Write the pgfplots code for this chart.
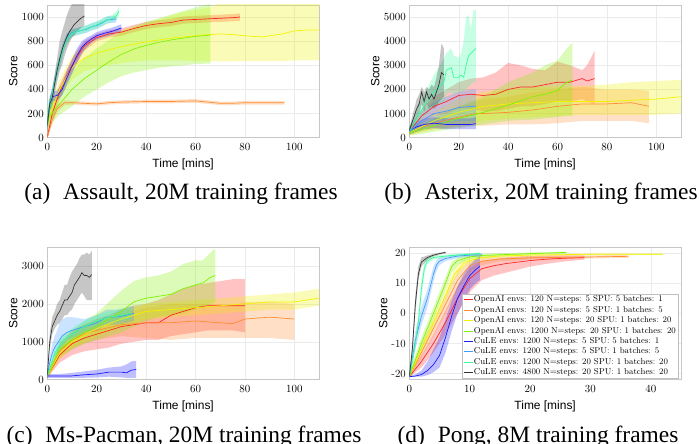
\documentclass[border=0pt]{standalone}
\usepackage{fontspec}
\usepackage{pgfplots}
\usepackage{pgfplotstable}
\pgfplotsset{compat=1.18}
\usepgfplotslibrary{fillbetween}
\newfontfamily\capfont{Liberation Serif}
\newfontfamily\labfont{Liberation Sans}
\definecolor{cR}{rgb}{1,0.15,0.15}
\definecolor{cO}{rgb}{1,0.55,0.2}
\definecolor{cY}{rgb}{0.95,0.95,0}
\definecolor{cG}{rgb}{0.5,0.95,0}
\definecolor{cB}{rgb}{0.1,0.1,1}
\definecolor{cL}{rgb}{0.25,0.6,1}
\definecolor{cS}{rgb}{0.2,1,0.6}
\definecolor{cK}{rgb}{0.2,0.2,0.2}

% ---------- (a) Assault ----------
\pgfplotstableread{
x y lo hi
0 0 0 60
2 200 140 260
5 380 320 440
8 520 470 570
10 600 550 650
13 700 650 750
15 760 720 800
20 830 800 860
25 860 830 890
30 875 845 905
35 905 875 935
40 930 900 960
45 945 915 975
50 955 925 985
55 975 945 1005
60 980 950 1010
65 985 955 1015
70 990 960 1020
75 995 965 1025
78 1000 970 1030
}\tAa
\pgfplotstableread{
x y lo hi
0 0 0 40
2 150 110 190
4 240 210 270
7 290 270 310
10 290 275 305
15 285 270 300
20 280 265 295
25 290 275 305
30 295 280 310
40 300 285 315
50 300 285 315
60 305 290 320
65 295 280 310
70 285 270 300
75 285 270 300
80 290 275 305
90 290 275 305
96 290 275 305
}\tAb
\pgfplotstableread{
x y lo hi
0 100 40 160
2 250 180 320
5 400 320 480
10 580 480 680
15 660 550 770
20 700 580 820
25 730 600 860
30 755 620 890
35 775 630 920
40 795 640 950
45 810 640 980
50 825 640 1010
55 835 640 1040
60 845 635 1060
66 855 633 1080
70 860 633 1130
75 855 633 1130
80 845 635 1130
87 835 635 1130
95 860 635 1130
100 885 640 1130
105 892 640 1130
110 892 640 1130
}\tAc
\pgfplotstableread{
x y lo hi
0 150 80 250
3 230 150 330
5 280 190 380
10 400 260 550
15 490 340 660
20 560 400 740
25 630 460 810
30 690 510 880
35 735 540 920
40 765 560 960
45 790 580 990
50 810 590 1020
55 825 600 1050
60 840 610 1080
66 850 615 1110
}\tAd
\pgfplotstableread{
x y lo hi
0 100 60 150
1 280 240 320
2 340 300 380
4 350 310 390
6 400 350 450
8 500 440 560
10 590 530 650
12 680 620 740
14 750 700 800
16 790 750 830
18 820 790 850
20 845 815 875
23 865 835 895
26 880 850 910
28 895 865 925
30 910 880 940
}\tAe
\pgfplotstableread{
x y lo hi
0 100 60 150
1 280 230 330
2 370 320 420
3 470 420 520
4 560 510 610
5 640 590 690
6 720 670 770
7 780 740 820
8 830 790 870
10 870 840 900
12 880 850 910
14 890 860 920
16 900 870 930
18 920 890 950
20 930 900 960
22 950 920 980
24 975 945 1005
26 980 950 1010
28 985 955 1015
}\tAf
\pgfplotstableread{
x y lo hi
0 100 50 300
1 260 200 330
2 360 310 410
3 460 410 510
4 550 500 600
5 630 580 680
6 710 660 760
7 770 730 810
8 820 780 860
10 865 835 895
12 880 850 910
14 890 860 920
16 905 875 935
18 920 890 950
20 935 905 965
22 955 925 985
24 975 945 1005
26 985 955 1015
28 1010 975 1045
29 1050 1010 1090
}\tAg
\pgfplotstableread{
x y lo hi
0 100 50 150
1 280 220 340
2 330 260 400
3 450 370 530
4 560 460 660
5 650 550 800
6 730 600 880
7 790 680 950
8 840 740 1020
9 880 790 1070
10 910 830 1110
11 940 850 1130
12 960 880 1140
13 980 900 1150
14 995 915 1160
15 1010 930 1160
}\tAh

% ---------- (b) Asterix ----------
\pgfplotstableread{
x y lo hi
0 250 150 350
5 900 600 1200
10 1300 900 1700
15 1500 1000 2000
20 1750 1200 2300
25 1800 1200 2450
30 1750 1100 2500
35 1800 1100 2700
40 2000 1200 3100
45 2100 1300 3000
50 2100 1300 2850
55 2200 1400 2800
60 2300 1500 3150
65 2300 1500 3000
70 2450 1600 2800
72 2350 1500 3000
75 2450 1400 3600
}\tBa
\pgfplotstableread{
x y lo hi
0 200 100 300
5 450 250 650
10 600 350 900
20 850 450 1300
27 1000 500 1500
30 1000 500 1600
40 1050 550 1700
50 1150 550 1900
60 1300 600 2000
70 1400 700 2100
80 1400 700 2000
90 1450 700 2000
97 1300 600 1950
}\tBb
\pgfplotstableread{
x y lo hi
0 200 100 300
5 450 250 650
10 700 350 1050
20 1050 500 1600
30 1300 700 1900
40 1400 800 2000
50 1450 850 2100
60 1500 900 2100
70 1500 950 2150
80 1500 950 2200
90 1550 950 2300
100 1600 950 2350
110 1700 1000 2400
}\tBc
\pgfplotstableread{
x y lo hi
0 200 100 300
5 350 150 550
10 500 250 800
20 800 400 1300
30 1050 550 1700
40 1350 700 2300
50 1700 750 2700
55 1800 800 3000
60 1950 850 3200
63 2250 900 3600
66 2400 900 3950
}\tBd
\pgfplotstableread{
x y lo hi
0 300 150 450
3 450 250 650
6 550 350 800
10 600 400 850
15 550 350 800
20 550 350 800
25 550 350 800
27 580 350 850
}\tBe
\pgfplotstableread{
x y lo hi
0 250 150 400
5 700 400 1100
10 1000 600 1500
15 1100 600 1700
20 1250 700 1900
25 1300 700 2000
27 1300 700 2000
}\tBf
\pgfplotstableread{
x y lo hi
0 250 150 400
2 600 400 900
4 1000 700 1400
6 1300 900 1800
8 1600 1100 2200
10 1900 1300 2600
12 2100 1400 2900
14 2300 1500 3300
15 2800 1800 3500
17 2900 1900 3700
18 2500 1800 3400
20 2500 1900 3300
21 2600 1900 3500
22 2500 1900 4000
23 3000 2000 5000
24 3400 2100 5050
25 3500 2200 4500
26 3600 2300 5300
27 3700 2300 5300
}\tBg
\pgfplotstableread{
x y lo hi
0 300 200 400
1 600 400 800
2 900 600 1200
3 1200 800 1600
4 1400 1000 1800
5 1900 1400 2100
6 1500 1100 1900
7 1900 1400 2100
8 1600 1200 2000
9 1800 1300 2200
10 1600 1200 2100
11 1900 1300 2500
12 2200 1500 3000
13 2700 1600 3900
14 2600 1700 3700
}\tBh

% ---------- (c) Ms-Pacman ----------
\pgfplotstableread{
x y lo hi
0 100 50 150
5 650 450 850
10 950 650 1250
15 1100 750 1450
20 1200 800 1600
25 1300 850 1700
30 1400 950 1850
35 1450 1000 1950
40 1500 1050 2000
45 1500 1050 2100
50 1700 1150 2250
55 1800 1200 2400
60 1900 1250 2500
65 1950 1300 2550
70 1950 1300 2600
75 1950 1300 2650
80 1950 1250 2650
}\tCa
\pgfplotstableread{
x y lo hi
0 100 50 150
5 750 550 950
10 1050 800 1300
15 1200 950 1450
20 1300 1050 1550
30 1450 1150 1750
40 1500 1100 1900
50 1500 1050 2000
60 1550 1100 2000
70 1500 1100 2000
75 1480 1100 1950
80 1600 1100 2050
90 1650 1100 2050
100 1600 1050 2000
}\tCb
\pgfplotstableread{
x y lo hi
0 100 50 150
5 700 550 850
10 1000 850 1150
20 1350 1150 1550
30 1600 1400 1800
40 1800 1600 2000
50 1850 1650 2050
60 1900 1700 2100
70 1950 1750 2150
80 2000 1800 2200
90 2050 1850 2250
100 2050 1850 2300
110 2150 1950 2400
}\tCc
\pgfplotstableread{
x y lo hi
0 100 50 150
5 800 600 1000
10 1050 800 1300
15 1250 950 1550
20 1400 1050 1750
25 1600 1150 2050
30 1800 1250 2350
35 2050 1400 2600
40 2150 1550 2700
45 2200 1650 2750
50 2250 1700 2850
55 2400 1750 3050
60 2500 1850 3150
63 2550 1900 3150
66 2700 2000 3350
68 2750 2050 3450
}\tCd
\pgfplotstableread{
x y lo hi
0 100 50 150
5 100 50 150
10 100 50 180
15 130 50 220
20 150 60 260
25 200 80 320
30 200 60 350
32 180 50 400
34 250 50 480
36 270 50 500
}\tCe
\pgfplotstableread{
x y lo hi
0 100 50 150
1 450 350 600
2 700 500 950
3 850 600 1150
4 950 700 1300
5 1050 800 1500
6 1150 900 1600
8 1250 1050 1650
10 1300 1100 1650
15 1400 1250 1600
20 1500 1300 1700
24 1650 1450 1850
28 1650 1450 1850
32 1700 1500 1900
35 1750 1550 1950
}\tCf
\pgfplotstableread{
x y lo hi
0 100 50 150
3 700 600 800
6 1000 850 1150
10 1200 1050 1350
15 1400 1250 1550
20 1550 1400 1700
25 1650 1500 1800
30 1700 1550 1850
34 1750 1600 1900
}\tCg
\pgfplotstableread{
x y lo hi
0 100 50 150
1 1000 800 1250
2 1400 1200 1650
3 1550 1350 1800
4 1700 1450 2000
5 1800 1500 2100
6 1950 1600 2300
7 2100 1700 2500
8 2100 1700 2500
9 2200 1800 2700
10 2300 1850 2850
11 2500 2000 2950
12 2600 2100 3050
13 2700 2200 3200
14 2820 2300 3300
15 2750 2200 3300
16 2750 2100 3350
17 2700 2100 3300
18 2770 2100 3400
}\tCh

% ---------- (d) Pong ----------
\pgfplotstableread{
x y lo hi
0 -21 -21 -20
2 -16 -18 -14
4 -10 -13 -7
6 -3 -7 1
8 5 0 9
10 11.5 7 15
12 14.8 11 17.5
14 15.8 12.5 18
16 16.5 13.5 18.5
18 17 14.5 18.8
20 17.5 15.5 19
23 18 16.5 19.2
26 18.3 17.3 19.2
29 18.5 17.8 19.2
}\tDa
\pgfplotstableread{
x y lo hi
0 -21 -21 -20
2 -13 -15 -11
4 -5 -7.5 -2.5
6 3 0 6
8 11 8 14
10 15.8 13.5 17.5
12 17.3 16 18.5
15 18 17.2 18.8
20 18.4 17.8 19
30 18.7 18.2 19.2
36.3 18.9 18.4 19.4
}\tDb
\pgfplotstableread{
x y lo hi
0 -21 -21 -20
2 -12 -13.5 -10.5
4 -3 -5 -1
6 6 4 8
7.5 13 11 15
9 16.5 15 18
10 17.5 16.5 18.5
12 18.5 17.8 19.2
15 19 18.5 19.5
20 19.3 18.9 19.7
30 19.6 19.3 19.9
42 19.6 19.3 19.9
}\tDc
\pgfplotstableread{
x y lo hi
0 -21 -21 -20
2 -10 -12 -8
4 0 -2 2
6 10 8 12
7 15.5 13.5 17
8 17.5 16 18.5
10 18.7 17.8 19.5
12 19.2 18.5 19.8
16 19.5 19 20
20 19.8 19.4 20.2
26 20.2 19.8 20.5
}\tDd
\pgfplotstableread{
x y lo hi
0 -21 -21 -20.5
1 -20.8 -21 -20.2
2 -20.3 -21 -19
3 -19 -20.5 -16
4 -17 -19.5 -12
5 -14 -18 -8
6 -8 -13 -2
7 -1 -6 4
8 5 0 9
9 9 4 13
10 12.5 8 16
11 14.5 10 18
11.7 15.6 11 19
}\tDe
\pgfplotstableread{
x y lo hi
0 -21 -21 -20
1 -9 -12 -6
2 -1 -4 2
3 5 2 8
4 13 10.5 15.5
4.5 16 14 17.5
5 17.3 16 18.5
6 18.2 17.3 19
8 19 18.3 19.6
10 19.3 18.7 19.8
12 19.4 18.8 19.9
}\tDf
\pgfplotstableread{
x y lo hi
0 -21 -21 -20
0.5 -16 -17.5 -14.5
1 -10 -12 -8
1.5 -3 -5.5 -0.5
2 8 5 11
2.5 15 13 17
3 17.5 16.5 18.5
4 18.5 17.8 19.2
6 19 18.5 19.5
8 19.3 18.8 19.8
10 19.6 19.2 20
11.7 19.9 19.5 20.2
}\tDg
\pgfplotstableread{
x y lo hi
0 -21 -21 -20
0.5 -12 -14 -10
1 3 0 6
1.5 13 11 15.5
2 17 15.5 18.5
3 18.5 17.8 19.2
4 19.3 18.9 19.7
5 19.8 19.5 20.1
6 20.2 19.9 20.5
}\tDh

% band + line
\newcommand{\band}[3]{%
  \addplot[draw=none, forget plot, name path=U#3] table[x=x,y=hi]{#1};
  \addplot[draw=none, forget plot, name path=L#3] table[x=x,y=lo]{#1};
  \addplot[fill=#2, fill opacity=0.28, draw=none, forget plot] fill between[of=U#3 and L#3];
}
\newcommand{\curve}[2]{\addplot[#2, line width=0.7bp, no marks] table[x=x,y=y]{#1};}

\pgfplotsset{
  panel/.style={scale only axis, width=271.7bp, height=132.7bp, anchor=north west,
    xmin=0, xmax=110,
    /pgf/number format/1000 sep={},
    axis line style={black!22}, grid=major, major grid style={black!8, line width=0.4bp},
    major tick length=0pt,
    ticklabel style={font=\fontsize{11}{13}\selectfont},
    xticklabel style={yshift=-2.6bp},
    xlabel={Time [mins]}, ylabel={Score},
    label style={font=\labfont\fontsize{12}{14}\selectfont},
    xlabel style={at={(axis description cs:0.5,0)}, anchor=base, yshift=-30bp},
    ylabel style={at={(axis description cs:-0.125,0.5)}, anchor=center},
  },
}

\begin{document}
\begin{tikzpicture}

% (a)
\begin{axis}[panel, at={(47.3bp,439bp)}, ymin=0, ymax=1100,
  xtick={0,20,...,100}, ytick={0,200,...,1000}]
\band{\tAa}{cR}{a1}\band{\tAb}{cO}{a2}\band{\tAc}{cY}{a3}\band{\tAd}{cG}{a4}
\band{\tAe}{cB}{a5}\band{\tAf}{cL}{a6}\band{\tAg}{cS}{a7}\band{\tAh}{cK}{a8}
\curve{\tAa}{cR}\curve{\tAb}{cO}\curve{\tAc}{cY}\curve{\tAd}{cG}
\curve{\tAe}{cB}\curve{\tAf}{cL}\curve{\tAg}{cS}\curve{\tAh}{cK}
\end{axis}

% (b)
\begin{axis}[panel, at={(409.3bp,439bp)}, ymin=0, ymax=5500,
  xtick={0,20,...,100}, ytick={0,1000,...,5000}, scaled y ticks=false]
\band{\tBa}{cR}{b1}\band{\tBb}{cO}{b2}\band{\tBc}{cY}{b3}\band{\tBd}{cG}{b4}
\band{\tBe}{cB}{b5}\band{\tBf}{cL}{b6}\band{\tBg}{cS}{b7}\band{\tBh}{cK}{b8}
\curve{\tBa}{cR}\curve{\tBb}{cO}\curve{\tBc}{cY}\curve{\tBd}{cG}
\curve{\tBe}{cB}\curve{\tBf}{cL}\curve{\tBg}{cS}\curve{\tBh}{cK}
\end{axis}

% (c)
\begin{axis}[panel, at={(47.3bp,197bp)}, ymin=0, ymax=3500,
  xtick={0,20,...,100}, ytick={0,1000,2000,3000}, scaled y ticks=false]
\band{\tCa}{cR}{c1}\band{\tCb}{cO}{c2}\band{\tCc}{cY}{c3}\band{\tCd}{cG}{c4}
\band{\tCe}{cB}{c5}\band{\tCf}{cL}{c6}\band{\tCg}{cS}{c7}\band{\tCh}{cK}{c8}
\curve{\tCa}{cR}\curve{\tCb}{cO}\curve{\tCc}{cY}\curve{\tCd}{cG}
\curve{\tCe}{cB}\curve{\tCf}{cL}\curve{\tCg}{cS}\curve{\tCh}{cK}
\end{axis}

% (d)
\begin{axis}[panel, at={(409.3bp,197bp)}, xmax=45, ymin=-22, ymax=22,
  xtick={0,10,...,40}, ytick={-20,-10,0,10,20}, yticklabels={-20,-10,0,10,20},
  ylabel style={at={(axis description cs:-0.096,0.5)}},
  legend cell align=left,
  legend style={at={(axis description cs:1,0)}, anchor=south east, xshift=-3bp, yshift=1.5bp,
    font=\fontsize{8.6}{10}\selectfont, draw=black!25, inner sep=1bp, row sep=1bp,
    nodes={inner sep=0.9bp}, fill=white},
  legend image code/.code={\draw[#1, line width=0.7bp] (0bp,0bp) -- (9bp,0bp);}]
\band{\tDa}{cR}{d1}\band{\tDb}{cO}{d2}\band{\tDc}{cY}{d3}\band{\tDd}{cG}{d4}
\band{\tDe}{cB}{d5}\band{\tDf}{cL}{d6}\band{\tDg}{cS}{d7}\band{\tDh}{cK}{d8}
\curve{\tDa}{cR}\curve{\tDb}{cO}\curve{\tDc}{cY}\curve{\tDd}{cG}
\curve{\tDe}{cB}\curve{\tDf}{cL}\curve{\tDg}{cS}\curve{\tDh}{cK}
\legend{{OpenAI envs: 120 N=steps: 5 SPU: 5 batches: 1},
{OpenAI envs: 120 N=steps: 5 SPU: 1 batches: 5},
{OpenAI envs: 120 N=steps: 20 SPU: 1 batches: 20},
{OpenAI envs: 1200 N=steps: 20 SPU: 1 batches: 20},
{CuLE envs: 1200 N=steps: 5 SPU: 5 batches: 1},
{CuLE envs: 1200 N=steps: 5 SPU: 1 batches: 5},
{CuLE envs: 1200 N=steps: 20 SPU: 1 batches: 20},
{CuLE envs: 4800 N=steps: 20 SPU: 1 batches: 20}}
\end{axis}

\node[anchor=base] at (181bp,244.7bp) {\capfont\fontsize{23.5}{26}\selectfont (a)\hspace{0.3em} Assault, 20M training frames};
\node[anchor=base] at (541bp,244.7bp) {\capfont\fontsize{23.5}{26}\selectfont (b)\hspace{0.3em} Asterix, 20M training frames};
\node[anchor=base] at (184bp,1.5bp) {\capfont\fontsize{23.5}{26}\selectfont (c)\hspace{0.3em} Ms-Pacman, 20M training frames};
\node[anchor=base] at (538bp,1.5bp) {\capfont\fontsize{23.5}{26}\selectfont (d)\hspace{0.3em} Pong, 8M training frames};
\pgfresetboundingbox
\path[use as bounding box] (0bp,0bp) rectangle (699bp,444bp);
\end{tikzpicture}
\end{document}
